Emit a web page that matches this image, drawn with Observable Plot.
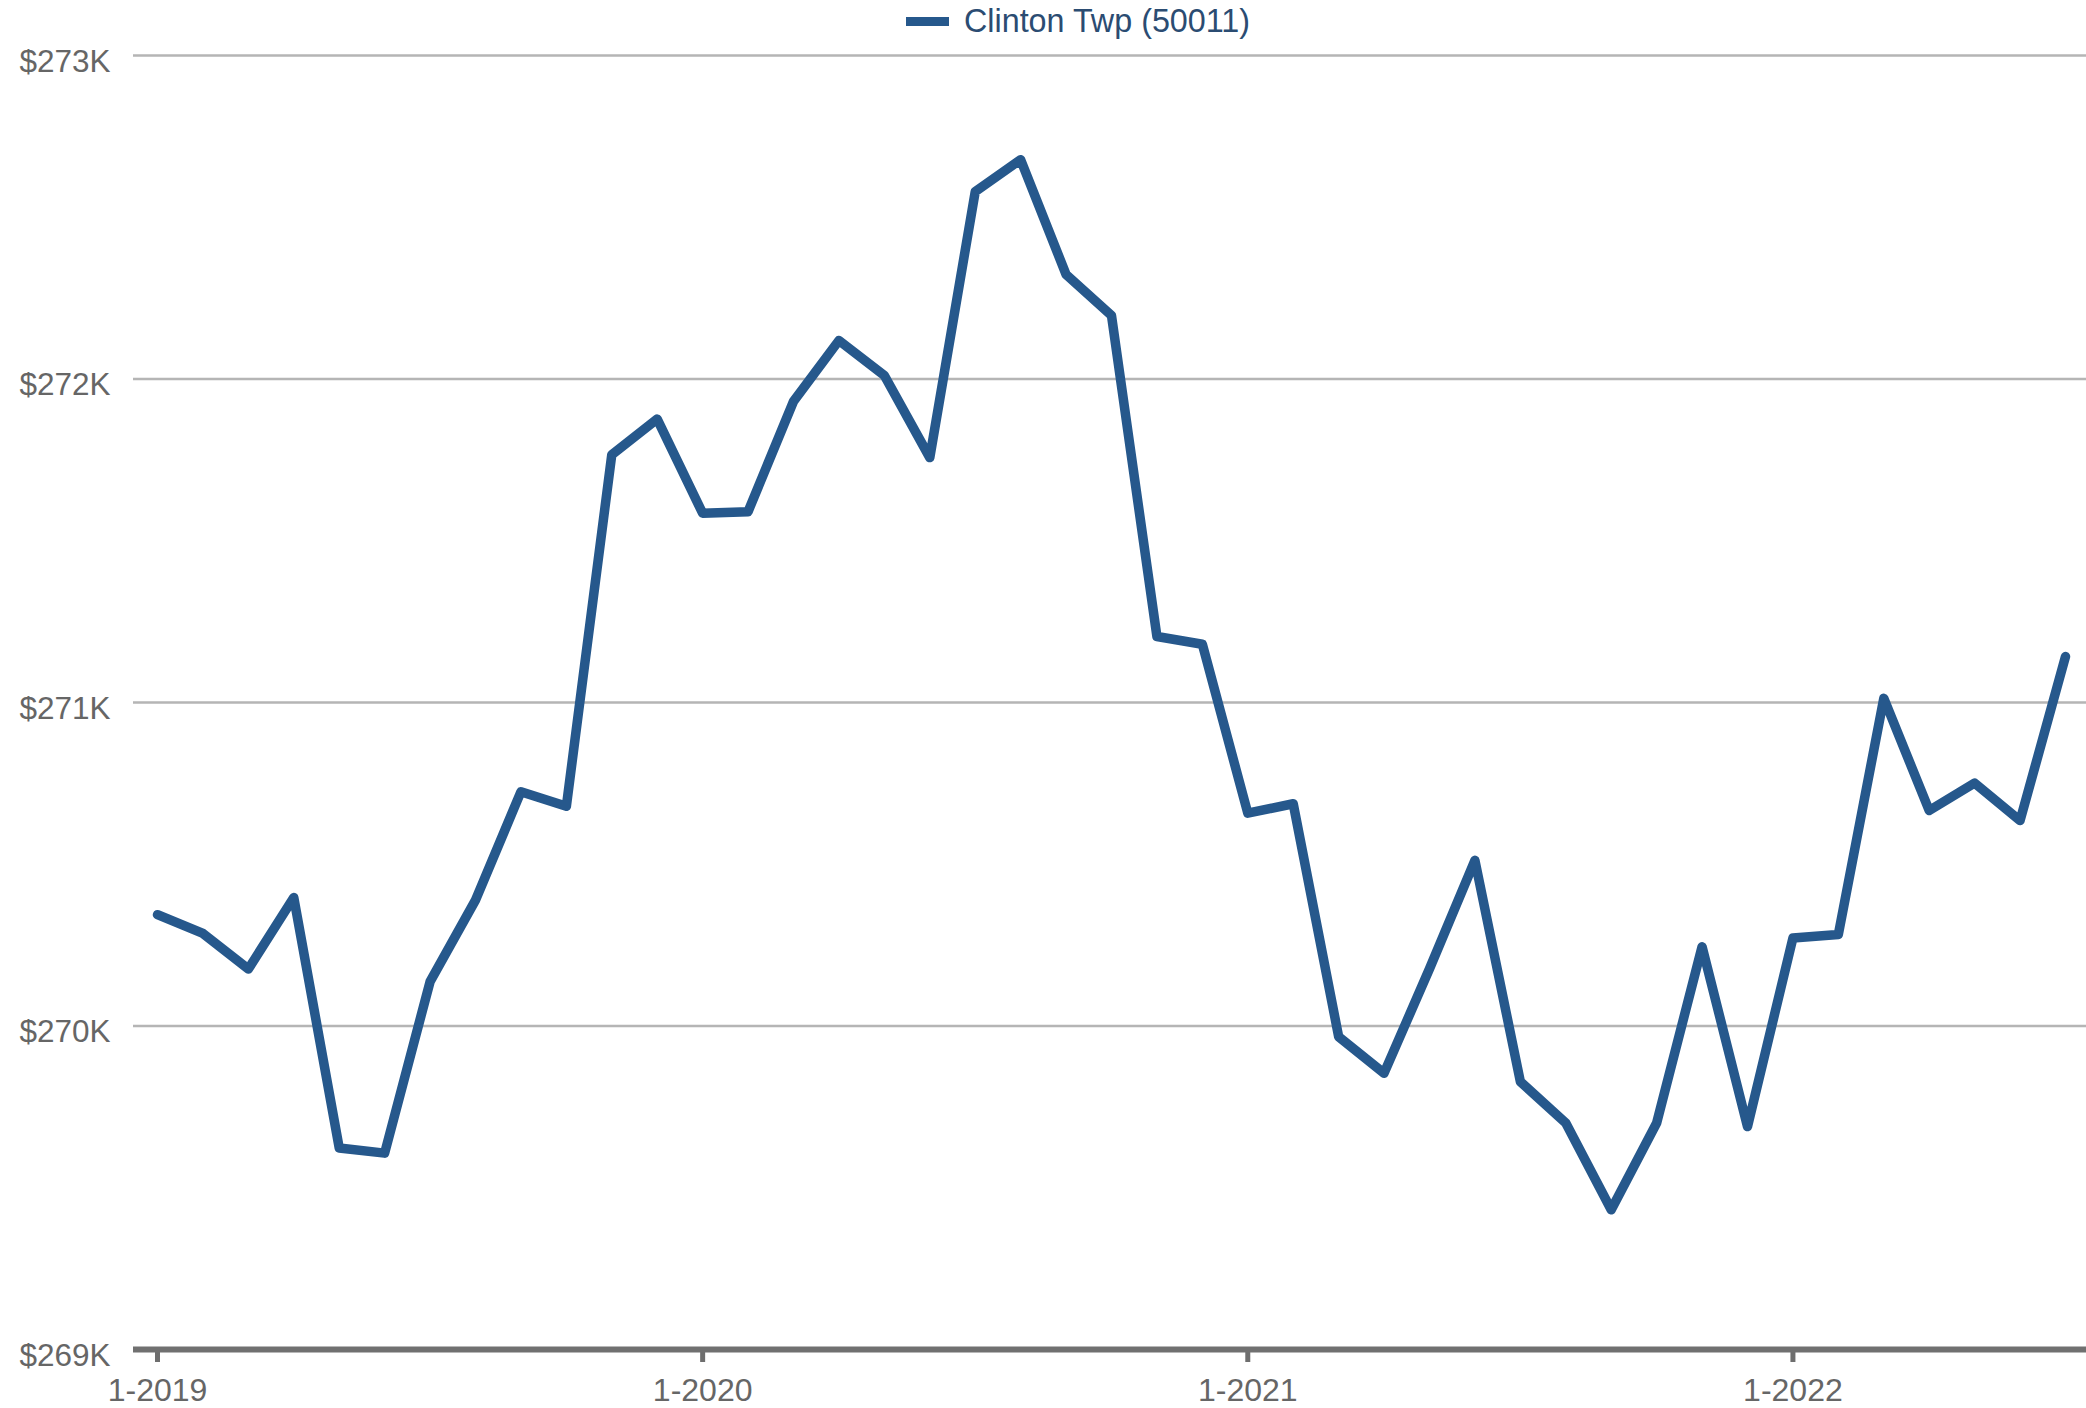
<!DOCTYPE html>
<html>
<head>
<meta charset="utf-8">
<script src="https://cdn.jsdelivr.net/npm/d3@7"></script>
<script src="https://cdn.jsdelivr.net/npm/@observablehq/plot@0.6"></script>
<style>
  html, body { margin: 0; padding: 0; background: #fff; }
  body { width: 2086px; height: 1408px; overflow: hidden; font-family: "Liberation Sans", Arial, sans-serif; }
  #legend { position: relative; height: 42px; width: 2086px; }
  #legend .sw { position: absolute; left: 906px; top: 17px; width: 43px; height: 9px; background: #26588c; }
  #legend .lb { position: absolute; left: 964px; top: 0px; line-height: 42px; font-size: 32.3px; color: #2b4c72; white-space: nowrap; }
  svg { overflow: visible; display: block; }
</style>
</head>
<body>
<div id="legend"><div class="sw"></div><div class="lb">Clinton Twp (50011)</div></div>
<div id="chart"></div>
<script>
const seriesName = "Clinton Twp (50011)";
const months = [
  "1-2019","2-2019","3-2019","4-2019","5-2019","6-2019","7-2019","8-2019","9-2019","10-2019","11-2019","12-2019",
  "1-2020","2-2020","3-2020","4-2020","5-2020","6-2020","7-2020","8-2020","9-2020","10-2020","11-2020","12-2020",
  "1-2021","2-2021","3-2021","4-2021","5-2021","6-2021","7-2021","8-2021","9-2021","10-2021","11-2021","12-2021",
  "1-2022","2-2022","3-2022","4-2022","5-2022","6-2022","7-2022"
];
// values in $K
const values = [
  270.344, 270.286, 270.176, 270.397, 269.623, 269.607, 270.137, 270.389, 270.724, 270.679, 271.766, 271.876,
  271.585, 271.590, 271.931, 272.119, 272.011, 271.757, 272.579, 272.678, 272.323, 272.196, 271.204, 271.180,
  270.658, 270.687, 269.967, 269.854, 270.177, 270.512, 269.828, 269.700, 269.432, 269.700, 270.245, 269.689,
  270.272, 270.283, 271.013, 270.666, 270.751, 270.635, 271.142
];
const yTicks = [269, 270, 271, 272, 273];
const xTicks = ["1-2019", "1-2020", "1-2021", "1-2022"];

const data = months.map((m, i) => ({month: m, value: values[i]}));

const chart = Plot.plot({
  width: 2086,
  height: 1366,
  marginLeft: 133,
  marginRight: 0,
  marginTop: 13,
  marginBottom: 59,
  style: {fontFamily: "Liberation Sans, Arial, sans-serif", background: "#fff", overflow: "visible"},
  x: {type: "point", domain: months, insetLeft: 24, insetRight: 21, padding: 0, round: false},
  y: {domain: [269, 273], axis: null},
  marks: [
    Plot.ruleY(yTicks.filter(d => d !== 269), {y: d => d, stroke: "#b5b5b5", strokeWidth: 2.5}),
    Plot.text(yTicks, {y: d => d, text: d => `$${d}K`, frameAnchor: "left", textAnchor: "start", dx: -114, dy: 6, fontSize: 31.5, fill: "#666"}),
    Plot.axisX({ticks: xTicks, tickSize: 13, tickPadding: 16, fontSize: 32, stroke: "#6e6e6e", strokeWidth: 5, color: "#666", label: null, tickFormat: d => d}),
    Plot.ruleY([269], {stroke: "#707070", strokeWidth: 6}),
    Plot.line(data, {x: "month", y: "value", stroke: "#26588c", strokeWidth: 9.5, strokeLinejoin: "round", strokeLinecap: "round"})
  ]
});
document.getElementById("chart").appendChild(chart);
</script>
</body>
</html>
